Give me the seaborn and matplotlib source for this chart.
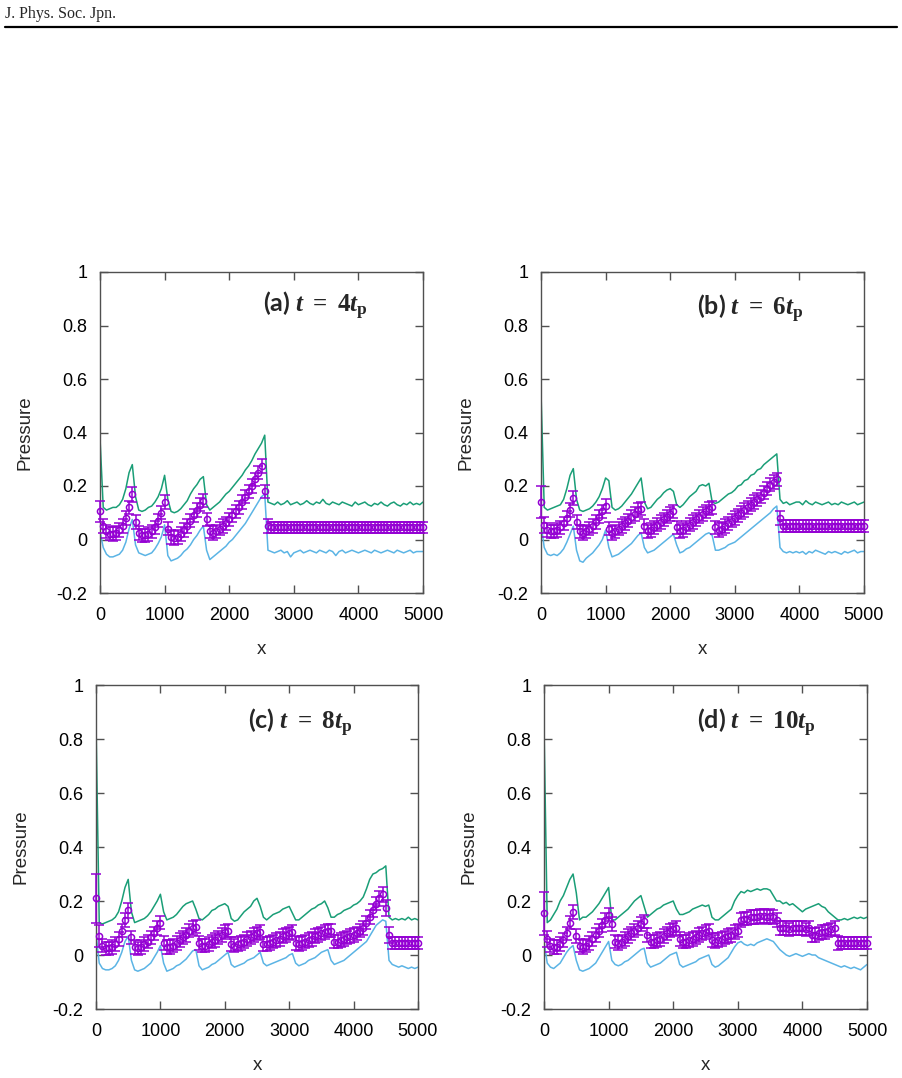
import numpy as np
import matplotlib
matplotlib.use("Agg")
import matplotlib.pyplot as plt
from matplotlib.lines import Line2D
import seaborn as sns

# ---------------- data (x sampled every 50) ----------------
X = np.arange(0, 5001, 50)

A_green = [0.38, 0.12, 0.11, 0.115, 0.12, 0.12, 0.13, 0.15, 0.19, 0.25,
           0.28, 0.16, 0.11, 0.105, 0.11, 0.12, 0.125, 0.14, 0.16, 0.19,
           0.24, 0.15, 0.105, 0.10, 0.105, 0.115, 0.13, 0.145, 0.17, 0.19,
           0.205, 0.225, 0.235, 0.13, 0.11, 0.12, 0.13, 0.14, 0.155, 0.17,
           0.18, 0.195, 0.21, 0.225, 0.24, 0.26, 0.275, 0.295, 0.32, 0.34,
           0.36, 0.39, 0.14, 0.135, 0.13, 0.14, 0.13, 0.135, 0.145, 0.13,
           0.135, 0.14, 0.13, 0.135, 0.145, 0.135, 0.13, 0.14, 0.135, 0.15,
           0.135, 0.13, 0.14, 0.135, 0.13, 0.14, 0.135, 0.13, 0.125, 0.14,
           0.13, 0.135, 0.14, 0.13, 0.125, 0.135, 0.13, 0.14, 0.13, 0.125,
           0.135, 0.14, 0.13, 0.125, 0.135, 0.13, 0.14, 0.13, 0.135, 0.13,
           0.14]
A_blue = [0.03, -0.03, -0.055, -0.065, -0.065, -0.06, -0.055, -0.04, -0.01, 0.04,
          0.075, -0.02, -0.05, -0.055, -0.06, -0.055, -0.05, -0.035, -0.015, 0.01,
          0.055, -0.06, -0.08, -0.075, -0.07, -0.06, -0.045, -0.035, -0.02, 0.0,
          0.015, 0.035, 0.05, -0.04, -0.075, -0.065, -0.055, -0.045, -0.035, -0.025,
          -0.01, 0.0, 0.015, 0.03, 0.045, 0.06, 0.08, 0.10, 0.12, 0.14,
          0.16, 0.17, -0.04, -0.045, -0.05, -0.045, -0.04, -0.05, -0.045, -0.065,
          -0.05, -0.045, -0.04, -0.05, -0.045, -0.04, -0.045, -0.05, -0.04, -0.045,
          -0.05, -0.04, -0.045, -0.06, -0.045, -0.04, -0.05, -0.045, -0.04, -0.045,
          -0.05, -0.045, -0.04, -0.045, -0.05, -0.04, -0.045, -0.05, -0.045, -0.04,
          -0.045, -0.05, -0.04, -0.045, -0.05, -0.045, -0.04, -0.05, -0.045, -0.045,
          -0.045]
A_mean = [0.105, 0.05, 0.03, 0.022, 0.02, 0.025, 0.035, 0.05, 0.08, 0.12,
          0.17, 0.065, 0.025, 0.015, 0.015, 0.02, 0.03, 0.045, 0.07, 0.10,
          0.14, 0.04, 0.01, 0.005, 0.01, 0.02, 0.035, 0.05, 0.07, 0.09,
          0.11, 0.13, 0.145, 0.075, 0.03, 0.025, 0.03, 0.04, 0.05, 0.06,
          0.075, 0.09, 0.105, 0.12, 0.14, 0.16, 0.18, 0.20, 0.225, 0.25,
          0.275, 0.18, 0.05, 0.045, 0.045, 0.045, 0.045, 0.045, 0.045, 0.045,
          0.045, 0.045, 0.045, 0.045, 0.045, 0.045, 0.045, 0.045, 0.045, 0.045,
          0.045, 0.045, 0.045, 0.045, 0.045, 0.045, 0.045, 0.045, 0.045, 0.045,
          0.045, 0.045, 0.045, 0.045, 0.045, 0.045, 0.045, 0.045, 0.045, 0.045,
          0.045, 0.045, 0.045, 0.045, 0.045, 0.045, 0.045, 0.045, 0.045, 0.045,
          0.045]
A_err = [0.04, 0.025, 0.025, 0.025, 0.025, 0.025, 0.025, 0.025, 0.025, 0.025,
         0.028, 0.025, 0.025, 0.025, 0.025, 0.025, 0.025, 0.025, 0.025, 0.025,
         0.025, 0.025, 0.025, 0.025, 0.025, 0.025, 0.025, 0.025, 0.025, 0.025,
         0.025, 0.025, 0.025, 0.025, 0.025, 0.025, 0.025, 0.025, 0.025, 0.025,
         0.025, 0.025, 0.025, 0.025, 0.025, 0.025, 0.025, 0.025, 0.025, 0.025,
         0.025, 0.025, 0.025, 0.022, 0.022, 0.022, 0.022, 0.022, 0.022, 0.022,
         0.022, 0.022, 0.022, 0.022, 0.022, 0.022, 0.022, 0.022, 0.022, 0.022,
         0.022, 0.022, 0.022, 0.022, 0.022, 0.022, 0.022, 0.022, 0.022, 0.022,
         0.022, 0.022, 0.022, 0.022, 0.022, 0.022, 0.022, 0.022, 0.022, 0.022,
         0.022, 0.022, 0.022, 0.022, 0.022, 0.022, 0.022, 0.022, 0.022, 0.022,
         0.022]

B_green = [0.55, 0.12, 0.11, 0.115, 0.12, 0.125, 0.13, 0.15, 0.19, 0.24,
           0.265, 0.15, 0.11, 0.105, 0.11, 0.115, 0.125, 0.14, 0.16, 0.19,
           0.23, 0.22, 0.12, 0.11, 0.115, 0.125, 0.14, 0.155, 0.17, 0.19,
           0.21, 0.23, 0.14, 0.115, 0.12, 0.135, 0.15, 0.16, 0.175, 0.185,
           0.19, 0.18, 0.13, 0.12, 0.13, 0.145, 0.16, 0.17, 0.18, 0.2,
           0.205, 0.2, 0.21, 0.14, 0.135, 0.14, 0.15, 0.16, 0.17, 0.175,
           0.185, 0.2, 0.205, 0.22, 0.225, 0.24, 0.245, 0.26, 0.265, 0.28,
           0.29, 0.30, 0.31, 0.32, 0.15, 0.135, 0.14, 0.13, 0.135, 0.14,
           0.14, 0.13, 0.145, 0.135, 0.13, 0.14, 0.135, 0.13, 0.135, 0.14,
           0.13, 0.135, 0.13, 0.14, 0.135, 0.13, 0.135, 0.14, 0.13, 0.135,
           0.14]
B_blue = [0.06, -0.03, -0.055, -0.06, -0.055, -0.06, -0.05, -0.035, -0.01, 0.02,
          0.05, -0.04, -0.08, -0.085, -0.07, -0.06, -0.05, -0.035, -0.02, 0.0,
          0.035, -0.03, -0.065, -0.06, -0.055, -0.045, -0.035, -0.025, -0.015, 0.0,
          0.015, 0.025, -0.03, -0.05, -0.045, -0.04, -0.03, -0.02, -0.01, 0.0,
          0.01, 0.02, -0.02, -0.05, -0.045, -0.035, -0.03, -0.02, -0.01, 0.0,
          0.01, 0.02, 0.025, 0.015, -0.04, -0.04, -0.035, -0.03, -0.02, -0.015,
          -0.01, 0.0, 0.01, 0.02, 0.03, 0.04, 0.05, 0.06, 0.07, 0.08,
          0.09, 0.10, 0.115, 0.125, -0.03, -0.045, -0.05, -0.045, -0.05, -0.045,
          -0.05, -0.045, -0.055, -0.045, -0.05, -0.04, -0.045, -0.05, -0.055, -0.045,
          -0.05, -0.045, -0.05, -0.055, -0.045, -0.05, -0.045, -0.04, -0.05, -0.045,
          -0.045]
B_mean = [0.14, 0.055, 0.035, 0.03, 0.03, 0.035, 0.045, 0.06, 0.08, 0.11,
          0.155, 0.065, 0.03, 0.025, 0.03, 0.04, 0.05, 0.065, 0.085, 0.105,
          0.125, 0.04, 0.025, 0.03, 0.04, 0.05, 0.06, 0.07, 0.085, 0.095,
          0.11, 0.115, 0.05, 0.03, 0.035, 0.045, 0.055, 0.065, 0.075, 0.085,
          0.095, 0.105, 0.045, 0.03, 0.035, 0.045, 0.055, 0.065, 0.075, 0.085,
          0.095, 0.105, 0.115, 0.12, 0.045, 0.035, 0.04, 0.05, 0.06, 0.07,
          0.08, 0.09, 0.10, 0.11, 0.12, 0.13, 0.14, 0.15, 0.16, 0.175,
          0.19, 0.205, 0.215, 0.225, 0.08, 0.05, 0.05, 0.05, 0.05, 0.05,
          0.05, 0.05, 0.05, 0.05, 0.05, 0.05, 0.05, 0.05, 0.05, 0.05,
          0.05, 0.05, 0.05, 0.05, 0.05, 0.05, 0.05, 0.05, 0.05, 0.05,
          0.05]
B_err = [0.06, 0.03, 0.025, 0.025, 0.025, 0.025, 0.025, 0.025, 0.025, 0.025,
         0.025, 0.025, 0.025, 0.025, 0.025, 0.025, 0.025, 0.025, 0.025, 0.025,
         0.025, 0.025, 0.025, 0.025, 0.025, 0.025, 0.025, 0.025, 0.025, 0.025,
         0.025, 0.025, 0.025, 0.025, 0.025, 0.025, 0.025, 0.025, 0.025, 0.025,
         0.025, 0.025, 0.025, 0.025, 0.025, 0.025, 0.025, 0.025, 0.025, 0.025,
         0.025, 0.025, 0.025, 0.025, 0.025, 0.025, 0.025, 0.025, 0.025, 0.025,
         0.025, 0.025, 0.025, 0.025, 0.025, 0.025, 0.025, 0.025, 0.025, 0.025,
         0.025, 0.025, 0.025, 0.025, 0.025, 0.022, 0.022, 0.022, 0.022, 0.022,
         0.022, 0.022, 0.022, 0.022, 0.022, 0.022, 0.022, 0.022, 0.022, 0.022,
         0.022, 0.022, 0.022, 0.022, 0.022, 0.022, 0.022, 0.022, 0.022, 0.022,
         0.022]

C_green = [0.86, 0.12, 0.115, 0.12, 0.125, 0.13, 0.14, 0.16, 0.2, 0.25,
           0.28, 0.16, 0.12, 0.125, 0.13, 0.135, 0.145, 0.16, 0.18, 0.2,
           0.225, 0.16, 0.13, 0.135, 0.14, 0.15, 0.165, 0.18, 0.19, 0.195,
           0.2, 0.17, 0.135, 0.13, 0.14, 0.15, 0.165, 0.17, 0.18, 0.185,
           0.19, 0.18, 0.135, 0.125, 0.13, 0.145, 0.16, 0.17, 0.18, 0.2,
           0.21, 0.18, 0.14, 0.13, 0.14, 0.15, 0.155, 0.16, 0.17, 0.175,
           0.18, 0.155, 0.13, 0.13, 0.14, 0.15, 0.16, 0.17, 0.175, 0.185,
           0.19, 0.2, 0.175, 0.14, 0.14, 0.15, 0.155, 0.165, 0.17, 0.175,
           0.185, 0.19, 0.2, 0.215, 0.245, 0.28, 0.3, 0.305, 0.315, 0.32,
           0.33, 0.14, 0.13, 0.135, 0.13, 0.135, 0.13, 0.14, 0.13, 0.135,
           0.13]
C_blue = [0.08, -0.03, -0.05, -0.055, -0.055, -0.05, -0.04, -0.02, 0.01, 0.05,
          0.07, -0.02, -0.055, -0.06, -0.055, -0.05, -0.04, -0.03, -0.01, 0.01,
          0.035, -0.03, -0.06, -0.055, -0.05, -0.04, -0.035, -0.025, -0.015, 0.0,
          0.015, 0.02, -0.04, -0.055, -0.05, -0.045, -0.035, -0.03, -0.02, -0.01,
          0.0, 0.01, -0.035, -0.045, -0.04, -0.035, -0.03, -0.02, -0.015, -0.01,
          0.0, 0.01, -0.03, -0.04, -0.035, -0.03, -0.025, -0.02, -0.015, -0.01,
          0.0, 0.005, -0.03, -0.04, -0.035, -0.03, -0.02, -0.015, -0.01, 0.0,
          0.01, 0.015, 0.02, -0.02, -0.035, -0.03, -0.025, -0.02, -0.01, 0.0,
          0.01, 0.02, 0.03, 0.04, 0.05, 0.07, 0.09, 0.11, 0.12, 0.13,
          0.125, -0.02, -0.035, -0.04, -0.045, -0.04, -0.045, -0.05, -0.045, -0.05,
          -0.045]
C_mean = [0.21, 0.07, 0.035, 0.025, 0.025, 0.03, 0.04, 0.06, 0.09, 0.13,
          0.165, 0.065, 0.03, 0.025, 0.03, 0.04, 0.05, 0.065, 0.08, 0.10,
          0.12, 0.045, 0.03, 0.03, 0.035, 0.045, 0.055, 0.065, 0.075, 0.09,
          0.10, 0.105, 0.045, 0.035, 0.035, 0.04, 0.05, 0.055, 0.065, 0.075,
          0.085, 0.09, 0.04, 0.035, 0.04, 0.045, 0.05, 0.06, 0.065, 0.075,
          0.08, 0.085, 0.04, 0.04, 0.045, 0.05, 0.055, 0.06, 0.07, 0.075,
          0.08, 0.085, 0.045, 0.04, 0.045, 0.05, 0.055, 0.06, 0.07, 0.075,
          0.08, 0.085, 0.09, 0.09, 0.05, 0.05, 0.055, 0.06, 0.065, 0.07,
          0.075, 0.08, 0.09, 0.10, 0.12, 0.14, 0.165, 0.19, 0.21, 0.225,
          0.175, 0.075, 0.045, 0.045, 0.045, 0.045, 0.045, 0.045, 0.045, 0.045,
          0.045]
C_err = [0.09, 0.04, 0.025, 0.025, 0.025, 0.025, 0.025, 0.025, 0.025, 0.025,
         0.028, 0.025, 0.025, 0.025, 0.025, 0.025, 0.025, 0.025, 0.025, 0.025,
         0.025, 0.025, 0.025, 0.025, 0.025, 0.025, 0.025, 0.025, 0.025, 0.025,
         0.025, 0.025, 0.025, 0.025, 0.025, 0.025, 0.025, 0.025, 0.025, 0.025,
         0.025, 0.025, 0.025, 0.025, 0.025, 0.025, 0.025, 0.025, 0.025, 0.025,
         0.025, 0.025, 0.025, 0.025, 0.025, 0.025, 0.025, 0.025, 0.025, 0.025,
         0.025, 0.025, 0.025, 0.025, 0.025, 0.025, 0.025, 0.025, 0.025, 0.025,
         0.025, 0.025, 0.025, 0.025, 0.025, 0.025, 0.025, 0.025, 0.025, 0.025,
         0.025, 0.025, 0.025, 0.025, 0.025, 0.025, 0.025, 0.025, 0.028, 0.028,
         0.03, 0.03, 0.022, 0.022, 0.022, 0.022, 0.022, 0.022, 0.022, 0.022,
         0.022]

D_green = [0.85, 0.12, 0.13, 0.15, 0.17, 0.2, 0.22, 0.25, 0.28, 0.3,
           0.23, 0.13, 0.14, 0.14, 0.15, 0.16, 0.175, 0.19, 0.21, 0.23,
           0.25, 0.13, 0.13, 0.14, 0.15, 0.16, 0.17, 0.185, 0.2, 0.21,
           0.22, 0.18, 0.14, 0.15, 0.16, 0.17, 0.175, 0.185, 0.19, 0.195,
           0.2, 0.17, 0.15, 0.15, 0.155, 0.16, 0.17, 0.175, 0.18, 0.185,
           0.18, 0.185, 0.14, 0.13, 0.13, 0.14, 0.15, 0.16, 0.17, 0.2,
           0.22, 0.235, 0.23, 0.24, 0.235, 0.24, 0.245, 0.24, 0.245, 0.245,
           0.24, 0.22, 0.2, 0.2, 0.19, 0.195, 0.185, 0.19, 0.18, 0.17,
           0.16, 0.17, 0.175, 0.18, 0.185, 0.19, 0.18, 0.175, 0.16, 0.15,
           0.14, 0.13, 0.13, 0.135, 0.13, 0.135, 0.14, 0.135, 0.14, 0.135,
           0.14]
D_blue = [0.05, -0.03, -0.045, -0.05, -0.04, -0.03, -0.01, 0.01, 0.025, 0.035,
          -0.02, -0.055, -0.06, -0.055, -0.05, -0.04, -0.03, -0.01, 0.01, 0.03,
          0.05, -0.02, -0.035, -0.04, -0.035, -0.025, -0.02, -0.01, 0.0, 0.01,
          0.02, 0.025, -0.03, -0.045, -0.04, -0.035, -0.03, -0.02, -0.01, 0.0,
          0.005, 0.01, -0.035, -0.045, -0.04, -0.035, -0.03, -0.025, -0.015, -0.01,
          -0.005, 0.0, -0.035, -0.045, -0.04, -0.03, -0.02, -0.01, 0.01, 0.03,
          0.045, 0.05, 0.04, 0.035, 0.04, 0.035, 0.045, 0.05, 0.055, 0.06,
          0.055, 0.05, 0.035, 0.02, 0.01, 0.0, -0.005, 0.0, 0.005, 0.0,
          -0.005, 0.0, 0.005, 0.0, 0.0, -0.01, -0.015, -0.02, -0.025, -0.03,
          -0.035, -0.04, -0.045, -0.04, -0.045, -0.05, -0.045, -0.05, -0.055, -0.045,
          -0.035]
D_mean = [0.155, 0.06, 0.035, 0.03, 0.03, 0.04, 0.055, 0.08, 0.12, 0.16,
          0.07, 0.035, 0.03, 0.035, 0.045, 0.06, 0.075, 0.09, 0.11, 0.13,
          0.15, 0.115, 0.05, 0.045, 0.05, 0.06, 0.07, 0.08, 0.09, 0.10,
          0.115, 0.125, 0.075, 0.05, 0.05, 0.055, 0.06, 0.07, 0.08, 0.09,
          0.095, 0.10, 0.06, 0.05, 0.05, 0.055, 0.06, 0.065, 0.075, 0.08,
          0.085, 0.09, 0.055, 0.05, 0.055, 0.06, 0.065, 0.07, 0.075, 0.085,
          0.09, 0.13, 0.135, 0.135, 0.14, 0.14, 0.14, 0.145, 0.145, 0.14,
          0.145, 0.14, 0.13, 0.10, 0.10, 0.10, 0.095, 0.10, 0.10, 0.10,
          0.10, 0.095, 0.10, 0.075, 0.075, 0.08, 0.085, 0.085, 0.09, 0.095,
          0.10, 0.045, 0.045, 0.045, 0.045, 0.045, 0.045, 0.045, 0.045, 0.045,
          0.045]
D_err = [0.08, 0.03, 0.025, 0.025, 0.025, 0.025, 0.025, 0.025, 0.025, 0.025,
         0.025, 0.025, 0.025, 0.025, 0.025, 0.025, 0.025, 0.025, 0.025, 0.025,
         0.025, 0.025, 0.025, 0.025, 0.025, 0.025, 0.025, 0.025, 0.025, 0.025,
         0.025, 0.025, 0.025, 0.025, 0.025, 0.025, 0.025, 0.025, 0.025, 0.025,
         0.025, 0.025, 0.025, 0.025, 0.025, 0.025, 0.025, 0.025, 0.025, 0.025,
         0.025, 0.025, 0.025, 0.025, 0.025, 0.025, 0.025, 0.025, 0.025, 0.025,
         0.025, 0.025, 0.025, 0.025, 0.025, 0.025, 0.025, 0.025, 0.025, 0.025,
         0.025, 0.025, 0.025, 0.025, 0.025, 0.025, 0.025, 0.025, 0.025, 0.025,
         0.025, 0.025, 0.025, 0.025, 0.025, 0.025, 0.025, 0.025, 0.025, 0.025,
         0.025, 0.025, 0.022, 0.022, 0.022, 0.022, 0.022, 0.022, 0.022, 0.022,
         0.022]

PANEL_LABELS = [r"(a) $t\ =\ 4t_{\mathrm{p}}$", r"(b) $t\ =\ 6t_{\mathrm{p}}$",
                r"(c) $t\ =\ 8t_{\mathrm{p}}$", r"(d) $t\ =\ 10t_{\mathrm{p}}$"]
X_TICKS = [0, 1000, 2000, 3000, 4000, 5000]
Y_TICKS = [-0.2, 0, 0.2, 0.4, 0.6, 0.8, 1]
Y_TICKLABELS = ["-0.2", "0", "0.2", "0.4", "0.6", "0.8", "1"]
HEADER = "J. Phys. Soc. Jpn."

# ---------------- style ----------------
sns.set_style("ticks")
plt.rcParams["font.family"] = ["Liberation Sans", "DejaVu Sans"]
plt.rcParams["mathtext.fontset"] = "custom"
plt.rcParams["mathtext.it"] = "Liberation Serif:italic:bold"
plt.rcParams["mathtext.rm"] = "Liberation Serif:bold"
plt.rcParams["mathtext.bf"] = "Liberation Serif:bold"

GREEN = "#1a9e77"
BLUE = "#5bb4e5"
PURPLE = "#9400d3"
SPINE = "#505050"

W, H = 902, 1078
fig = plt.figure(figsize=(W / 100, H / 100), dpi=100)

# axes boxes in pixels: left, top, right, bottom
boxes = [(100, 272, 423, 593), (541, 272, 864, 593),
         (96, 685, 418, 1009), (544, 685, 867, 1009)]
label_pos = [(0.505, 0.895), (0.483, 0.885), (0.472, 0.883), (0.474, 0.883)]

panels = [(A_green, A_blue, A_mean, A_err), (B_green, B_blue, B_mean, B_err),
          (C_green, C_blue, C_mean, C_err), (D_green, D_blue, D_mean, D_err)]

for k, ((g, b, m, e), (l, t, r, bt)) in enumerate(zip(panels, boxes)):
    ax = fig.add_axes([l / W, 1 - bt / H, (r - l) / W, (bt - t) / H])
    sns.lineplot(x=X, y=g, ax=ax, color=GREEN, lw=1.1)
    sns.lineplot(x=X, y=b, ax=ax, color=BLUE, lw=1.1)
    ax.errorbar(X, m, yerr=e, fmt="o", ms=4.4, mfc="none", mec=PURPLE, mew=1.1,
                ecolor=PURPLE, elinewidth=1.1, capsize=3.4, capthick=1.1,
                color=PURPLE, clip_on=False, zorder=3)
    ax.set_xlim(0, 5000)
    ax.set_ylim(-0.2, 1.0)
    ax.set_xticks(X_TICKS)
    ax.set_xticklabels([str(v) for v in X_TICKS])
    ax.set_yticks(Y_TICKS)
    ax.set_yticklabels(Y_TICKLABELS)
    ax.tick_params(direction="in", length=6, width=1.0, color=SPINE,
                   top=True, right=True, labelsize=13, labelcolor="black")
    ax.tick_params(axis="x", pad=10)
    ax.tick_params(axis="y", pad=9)
    for sp in ax.spines.values():
        sp.set_color(SPINE)
        sp.set_linewidth(1.0)
        sp.set_visible(True)
    ax.set_xlabel("x", fontsize=13.5, labelpad=12)
    ax.set_ylabel("Pressure", fontsize=13.5, labelpad=17)
    ax.text(label_pos[k][0], label_pos[k][1], PANEL_LABELS[k],
            transform=ax.transAxes, ha="left", va="center",
            fontsize=18, fontweight="bold", family=["Lato", "DejaVu Sans"])

fig.text(5 / W, 1 - 14 / H, HEADER, ha="left", va="center",
         fontsize=11.5, family=["Liberation Serif", "DejaVu Serif"])
fig.add_artist(Line2D([5 / W, 897 / W], [1 - 27 / H, 1 - 27 / H],
                      color="black", lw=1.6, transform=fig.transFigure))

fig.savefig("out.png", dpi=100)
